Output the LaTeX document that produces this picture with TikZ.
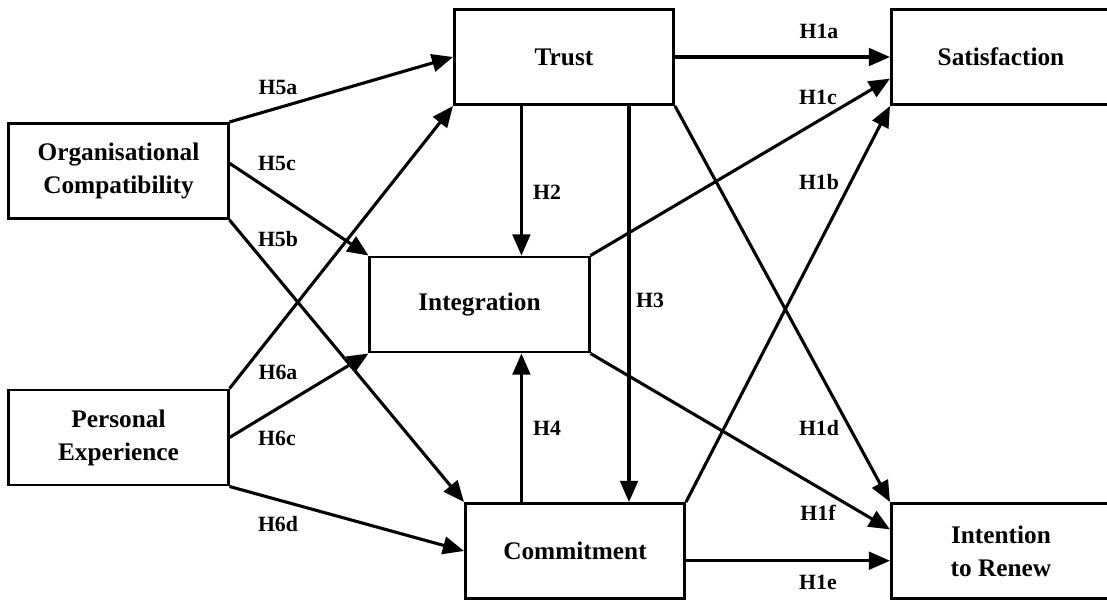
\documentclass[tikz,border=0pt]{standalone}
\usepackage{fontspec}
\setmainfont{Liberation Serif}
\usetikzlibrary{arrows.meta}
\begin{document}
\begin{tikzpicture}[x=0.025cm,y=-0.025cm,
  box/.style={draw,line width=2.1pt,minimum width=5.475cm,minimum height=2.375cm,
    inner sep=0pt,align=center,font=\fontsize{18}{23.4}\selectfont\bfseries},
  hyp/.style={inner sep=0pt,font=\fontsize{15.5}{18}\selectfont\bfseries},
  link/.style={line width=2.2pt,-{Triangle[length=15pt,width=12.5pt]}}]
\clip (0,0) rectangle (1107,600);
\node[box] (org) at (118.5,171) {Organisational\\Compatibility};
\node[box] (pers) at (118.5,437.5) {Personal\\Experience};
\node[box] (trust) at (564,57) {Trust};
\node[box] (integ) at (479.5,304.5) {Integration};
\node[box] (commit) at (575,551) {Commitment};
\node[box] (satis) at (1001,57) {Satisfaction};
\node[box] (renew) at (1001,551) {Intention\\to Renew};
\draw[link] (org.north east) -- (trust.west);
\draw[link] (org.4) -- (integ.north west);
\draw[link] (org.south east) -- (commit.north west);
\draw[link] (pers.north east) -- (trust.south west);
\draw[link] (pers.east) -- (integ.south west);
\draw[link] (pers.south east) -- (commit.west);
\draw[link] (trust.east) -- (satis.west);
\draw[link] (integ.north east) -- (satis.191);
\draw[link] (commit.north east) -- (satis.south west);
\draw[link] (trust.229) -- (trust.229 |- integ.north);
\draw[link] (trust.-37) -- (trust.-37 |- commit.north);
\draw[link] (trust.229 |- commit.north) -- (trust.229 |- integ.south);
\draw[link] (trust.south east) -- (renew.north west);
\draw[link] (integ.south east) -- (renew.169);
\draw[link] (commit.-5) -- (renew.185);
\node[hyp] (h5a) at (278,87) {H5a};
\node[hyp] (h5c) at (277,163) {H5c};
\node[hyp] (h5b) at (278,239) {H5b};
\node[hyp] (h6a) at (278,372) {H6a};
\node[hyp] (h6c) at (277,438) {H6c};
\node[hyp] (h6d) at (278,524) {H6d};
\node[hyp] (h1a) at (819,31) {H1a};
\node[hyp] (h1c) at (818,97) {H1c};
\node[hyp] (h1b) at (819,182) {H1b};
\node[hyp] (h2) at (547,192) {H2};
\node[hyp] (h3) at (650,300) {H3};
\node[hyp] (h4) at (547,428) {H4};
\node[hyp] (h1d) at (819,428) {H1d};
\node[hyp] (h1f) at (818,513) {H1f};
\node[hyp] (h1e) at (818,582) {H1e};
\end{tikzpicture}
\end{document}
